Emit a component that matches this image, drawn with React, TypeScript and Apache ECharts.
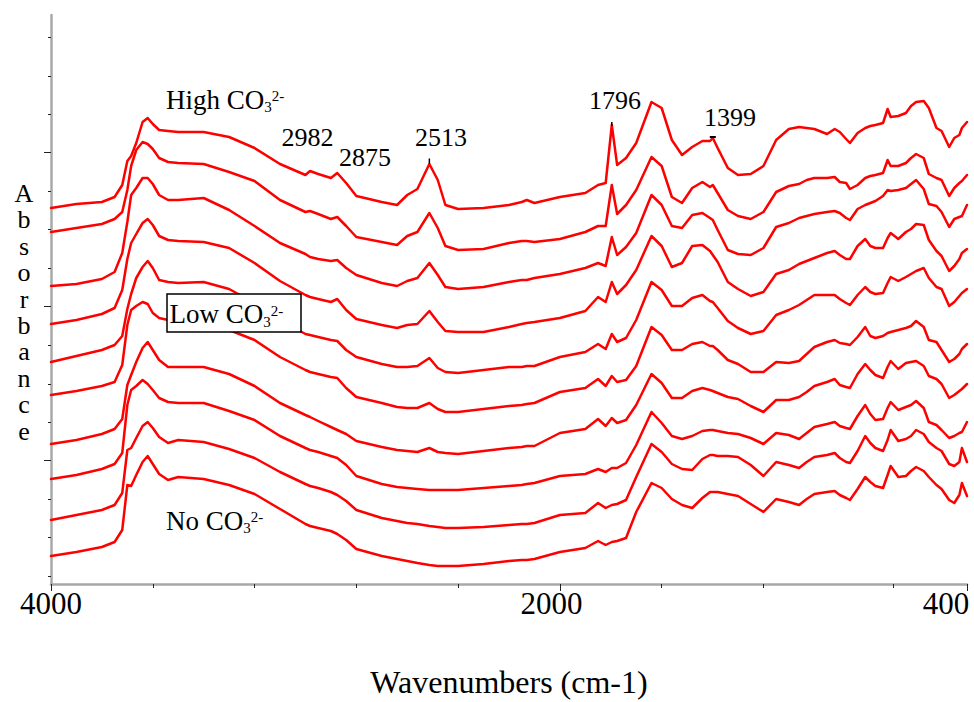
import React, { useEffect, useRef } from 'react';
import * as echarts from 'echarts';

// Wavenumber grid (cm-1), shared by all spectra
const wavenumbers = [
  4000, 3900, 3800, 3750, 3720, 3700, 3685, 3665, 3640, 3620,
  3600, 3575, 3540, 3500, 3400, 3300, 3200, 3100, 3000, 2982,
  2950, 2900, 2875, 2840, 2800, 2700, 2640, 2600, 2560, 2513,
  2480, 2450, 2400, 2300, 2200, 2150, 2130, 2100, 2000, 1900,
  1850, 1820, 1796, 1775, 1740, 1700, 1640, 1600, 1560, 1520,
  1480, 1440, 1410, 1399, 1380, 1340, 1300, 1250, 1200, 1150,
  1100, 1060, 1030, 1000, 950, 920, 900, 875, 860, 830,
  800, 780, 760, 730, 712, 700, 670, 640, 620, 600,
  570, 550, 520, 500, 470, 450, 430, 420, 400,
];

// Stacked absorbance spectra (offset, arbitrary units), top = High CO3, bottom = No CO3
const spectrum1 = [
  376, 380, 382, 387, 399, 423, 428, 441, 462, 466,
  460, 454, 453, 452, 452, 447, 436, 420, 409, 413,
  410, 406, 411, 401, 388, 382, 379, 389, 395, 420,
  404, 379, 375, 376, 379, 382, 384, 381, 387, 391,
  399, 401, 459, 419, 426, 441, 482, 476, 444, 429,
  437, 443, 443, 446, 436, 416, 409, 410, 418, 444,
  455, 457, 456, 455, 450, 455, 452, 445, 441, 451,
  456, 458, 459, 461, 475, 467, 468, 471, 478, 482,
  483, 476, 456, 453, 437, 446, 449, 456, 462,
];
const spectrum2 = [
  352, 356, 360, 365, 372, 394, 418, 434, 442, 440,
  435, 426, 422, 421, 420, 412, 403, 384, 372, 373,
  370, 365, 367, 358, 347, 342, 339, 348, 352, 371,
  356, 338, 334, 335, 341, 343, 343, 342, 345, 352,
  358, 358, 399, 370, 379, 394, 427, 418, 387, 381,
  396, 402, 397, 399, 391, 374, 368, 365, 372, 392,
  398, 400, 404, 406, 406, 407, 402, 401, 395, 399,
  406, 408, 409, 411, 424, 418, 418, 421, 426, 430,
  426, 410, 406, 404, 388, 396, 401, 403, 409,
];
const spectrum3 = [
  298, 300, 305, 312, 331, 362, 389, 396, 406, 406,
  400, 389, 384, 384, 386, 374, 358, 341, 330, 327,
  325, 323, 324, 316, 309, 301, 298, 303, 306, 321,
  309, 297, 295, 297, 302, 304, 304, 306, 310, 316,
  321, 318, 347, 329, 337, 351, 389, 379, 358, 356,
  369, 371, 366, 364, 354, 334, 330, 329, 336, 357,
  361, 366, 368, 370, 372, 373, 371, 366, 364, 375,
  379, 381, 383, 388, 394, 393, 394, 396, 400, 404,
  395, 380, 378, 372, 357, 365, 367, 368, 379,
];
const spectrum4 = [
  260, 264, 270, 276, 294, 325, 341, 350, 361, 365,
  359, 348, 344, 343, 342, 336, 321, 303, 289, 287,
  285, 282, 285, 274, 265, 259, 256, 259, 260, 273,
  262, 253, 252, 252, 257, 260, 261, 262, 266, 273,
  287, 282, 302, 290, 299, 314, 348, 338, 317, 321,
  338, 339, 333, 329, 322, 302, 295, 288, 292, 310,
  314, 320, 323, 326, 331, 333, 329, 325, 325, 338,
  345, 338, 336, 336, 346, 351, 345, 352, 355, 360,
  359, 344, 333, 328, 313, 318, 325, 331, 335,
];
const spectrum5 = [
  222, 228, 234, 239, 248, 275, 290, 306, 317, 323,
  316, 304, 302, 301, 302, 295, 281, 264, 250, 249,
  247, 244, 243, 234, 227, 220, 217, 217, 218, 226,
  216, 212, 211, 214, 217, 217, 218, 218, 227, 232,
  240, 235, 250, 242, 246, 264, 302, 294, 278, 278,
  286, 289, 283, 282, 276, 263, 256, 250, 253, 269,
  274, 279, 284, 289, 289, 289, 285, 281, 279, 289,
  297, 292, 290, 291, 301, 307, 303, 307, 310, 313,
  316, 306, 297, 295, 278, 282, 288, 291, 295,
];
const spectrum6 = [
  189, 193, 198, 202, 219, 259, 274, 278, 282, 280,
  271, 266, 264, 262, 262, 254, 244, 227, 214, 212,
  210, 207, 206, 196, 187, 181, 177, 176, 176, 181,
  175, 172, 172, 175, 178, 179, 180, 181, 192, 196,
  205, 198, 208, 202, 204, 218, 257, 249, 234, 234,
  240, 242, 238, 238, 234, 224, 220, 212, 212, 222,
  221, 223, 230, 237, 242, 244, 241, 240, 239, 247,
  257, 248, 246, 248, 251, 252, 254, 256, 258, 263,
  257, 244, 242, 234, 222, 225, 230, 235, 240,
];
const spectrum7 = [
  140, 144, 150, 155, 165, 199, 209, 222, 236, 242,
  234, 224, 217, 217, 217, 210, 198, 181, 169, 167,
  163, 157, 154, 150, 143, 137, 134, 133, 132, 136,
  132, 131, 130, 133, 136, 137, 138, 138, 151, 155,
  165, 158, 166, 161, 164, 179, 210, 201, 186, 186,
  193, 196, 194, 193, 191, 187, 185, 178, 172, 184,
  184, 187, 192, 198, 202, 205, 199, 197, 196, 210,
  220, 214, 209, 206, 217, 223, 215, 221, 222, 223,
  218, 208, 205, 200, 186, 189, 193, 195, 200,
];
const spectrum8 = [
  105, 109, 115, 120, 131, 179, 194, 198, 204, 200,
  194, 186, 182, 181, 181, 173, 164, 148, 136, 134,
  132, 128, 126, 119, 108, 100, 97, 96, 95, 94,
  94, 94, 94, 96, 98, 99, 100, 101, 108, 110,
  115, 112, 116, 116, 121, 139, 172, 161, 148, 145,
  148, 153, 154, 154, 153, 151, 150, 146, 140, 151,
  149, 145, 151, 157, 160, 162, 158, 156, 155, 168,
  179, 170, 164, 165, 176, 182, 174, 177, 179, 183,
  176, 162, 159, 154, 146, 148, 151, 152, 162,
];
const spectrum9 = [
  64, 69, 74, 79, 91, 134, 136, 146, 158, 162,
  156, 147, 141, 144, 142, 135, 126, 112, 100, 98,
  96, 92, 89, 83, 74, 66, 63, 61, 60, 58,
  57, 56, 56, 57, 59, 60, 60, 61, 69, 71,
  81, 76, 79, 80, 84, 107, 140, 132, 120, 115,
  114, 125, 129, 129, 128, 128, 127, 119, 108, 122,
  119, 116, 122, 127, 129, 131, 126, 122, 121, 133,
  148, 141, 136, 133, 144, 154, 143, 145, 148, 154,
  150, 142, 136, 133, 120, 118, 122, 136, 122,
];
const spectrum10 = [
  28, 32, 37, 42, 54, 99, 98, 109, 122, 128,
  120, 110, 104, 107, 105, 99, 90, 75, 60, 58,
  56, 53, 50, 44, 35, 28, 25, 23, 21, 19,
  18, 18, 18, 20, 23, 24, 24, 25, 32, 36,
  43, 39, 42, 43, 46, 72, 101, 96, 85, 79,
  76, 86, 92, 92, 92, 90, 88, 80, 72, 85,
  82, 79, 85, 90, 92, 93, 89, 86, 84, 95,
  107, 102, 98, 96, 109, 118, 107, 108, 113, 117,
  113, 107, 99, 95, 84, 81, 89, 101, 88,
];

const spectra = [
  spectrum1, spectrum2, spectrum3, spectrum4, spectrum5,
  spectrum6, spectrum7, spectrum8, spectrum9, spectrum10,
];

// Axis ticks and labels
const xLabelValues = [4000, 2000, 400];
const xMinorTicks = [3600, 3200, 2800, 2400, 1600, 1200, 690];
const yMajorTicks = [124, 278, 432];
const yMinorTicks = [8, 47, 85, 162, 200, 239, 316, 355, 393, 470, 508, 547];

// Peak annotations (wavenumber labels)
const peakLabels = ['2982', '2875', '2513', '1796', '1399'];
const peakMarks = [2513, 1796, 1399];
const yTitleLetters = ['A', 'b', 's', 'o', 'r', 'b', 'a', 'n', 'c', 'e'];

const FONT = "'Liberation Serif', 'Times New Roman', Times, serif";

export default function App() {
  const ref = useRef<HTMLDivElement>(null);

  useEffect(() => {
    if (!ref.current) return;
    const chart = echarts.init(ref.current, null, { renderer: 'svg' });

    const series: any[] = spectra.map((s, k) => ({
      type: 'line',
      name: 'Spectrum ' + (k + 1),
      data: wavenumbers.map((w, i) => [w, s[i]]),
      showSymbol: false,
      symbol: 'none',
      silent: true,
      lineStyle: { color: '#ff0000', width: 2.5, join: 'round', cap: 'round' },
      z: 2,
    }));

    const idx = (w: number) => wavenumbers.indexOf(w);
    series[0].markPoint = {
      silent: true,
      label: { show: false },
      itemStyle: { color: '#000' },
      data: [
        { coord: [peakMarks[0], spectrum1[idx(peakMarks[0])] + 3], symbol: 'rect', symbolSize: [1.5, 5] },
        { coord: [peakMarks[1], spectrum1[idx(peakMarks[1])] + 1], symbol: 'rect', symbolSize: [1.5, 4] },
        { coord: [peakMarks[2], spectrum1[idx(peakMarks[2])] + 1], symbol: 'rect', symbolSize: [6, 2] },
      ],
    };

    const sub = (t: string, x: number, lineTop: number) => ({
      type: 'text',
      x,
      y: lineTop,
      z: 101,
      silent: true,
      style: {
        text: `{n|${t}}{s|3}{p|2-}`,
        align: 'left',
        verticalAlign: 'top',
        rich: {
          n: { fontSize: 27, fontFamily: FONT, lineHeight: 34, fill: '#000', verticalAlign: 'middle' },
          s: { fontSize: 15, fontFamily: FONT, lineHeight: 15, fill: '#000', verticalAlign: 'top', padding: [17, 0, 0, 0] },
          p: { fontSize: 15, fontFamily: FONT, lineHeight: 15, fill: '#000', verticalAlign: 'top', padding: [6, 0, 0, 0] },
        },
      },
    });

    const peakText = (t: string, x: number, y: number) => ({
      type: 'text',
      x,
      y,
      z: 101,
      silent: true,
      style: { text: t, fontSize: 26, fontFamily: FONT, fill: '#000', align: 'center', verticalAlign: 'middle' },
    });

    const titleLetters = yTitleLetters.map((ch, i) => ({
      type: 'text',
      x: 24,
      y: 193.5 + i * 26.4,
      z: 101,
      silent: true,
      style: {
        text: ch,
        fontSize: 26,
        fontFamily: FONT,
        fill: '#000',
        align: 'center',
        verticalAlign: 'middle',
      },
    }));

    const option: any = {
      animation: false,
      backgroundColor: '#ffffff',
      grid: { left: 51, right: 7, top: 15, bottom: 118, containLabel: false, outerBoundsMode: 'none' },
      xAxis: [
        {
          type: 'value',
          inverse: true,
          min: 400,
          max: 4000,
          position: 'bottom',
          axisLine: { show: true, onZero: false, lineStyle: { color: '#a8a8a8', width: 2.5 } },
          axisTick: { show: true, customValues: xLabelValues, length: 7, lineStyle: { color: '#222', width: 1 } },
          axisLabel: {
            show: true,
            customValues: xLabelValues,
            showMinLabel: true,
            showMaxLabel: true,
            margin: 4,
            fontSize: 31,
            fontFamily: FONT,
            color: '#000',
            formatter: (v: number) => (v === 2000 ? `{b|${v}}` : v === 400 ? `{c|${v}}` : `{a|${v}}`),
            rich: {
              a: { fontSize: 31, fontFamily: FONT, color: '#000' },
              b: { fontSize: 31, fontFamily: FONT, color: '#000', padding: [0, 17, 0, 0] },
              c: { fontSize: 31, fontFamily: FONT, color: '#000', padding: [0, 42, 0, 0] },
            },
          },
          splitLine: { show: false },
          name: 'Wavenumbers (cm-1)',
          nameLocation: 'middle',
          nameGap: 82,
          nameTextStyle: { fontSize: 32, fontFamily: FONT, color: '#000' },
        },
        {
          type: 'value',
          inverse: true,
          min: 400,
          max: 4000,
          position: 'bottom',
          axisLine: { show: false, onZero: false },
          axisTick: { show: true, customValues: xMinorTicks, length: 4, lineStyle: { color: '#222', width: 1 } },
          axisLabel: { show: false },
          splitLine: { show: false },
        },
      ],
      yAxis: [
        {
          type: 'value',
          min: 0,
          max: 569,
          position: 'left',
          axisLine: { show: true, onZero: false, lineStyle: { color: '#a8a8a8', width: 2.5 } },
          axisTick: { show: true, customValues: yMajorTicks, length: 7, lineStyle: { color: '#222', width: 1 } },
          axisLabel: { show: false },
          splitLine: { show: false },
        },
        {
          type: 'value',
          min: 0,
          max: 569,
          position: 'left',
          axisLine: { show: false, onZero: false },
          axisTick: { show: true, customValues: yMinorTicks, length: 3, lineStyle: { color: '#222', width: 1 } },
          axisLabel: { show: false },
          splitLine: { show: false },
        },
      ],
      series,
      graphic: [
        ...titleLetters,
        sub('High CO', 166, 82.9),
        {
          type: 'rect',
          z: 100,
          silent: true,
          shape: { x: 167, y: 294, width: 134, height: 38 },
          style: { fill: '#ffffff', stroke: '#000000', lineWidth: 1.5 },
        },
        sub('Low CO', 169.5, 297.2),
        sub('No CO', 166, 503.9),
        peakText(peakLabels[0], 307.5, 137.9),
        peakText(peakLabels[1], 365, 157.2),
        peakText(peakLabels[2], 441, 137.9),
        peakText(peakLabels[3], 615, 100.5),
        peakText(peakLabels[4], 730, 117.9),
      ],
    };

    chart.setOption(option);
    return () => chart.dispose();
  }, []);

  return (
    <div
      ref={ref}
      style={{ position: 'fixed', left: 0, top: 0, width: 974, height: 702, background: '#fff' }}
    />
  );
}
